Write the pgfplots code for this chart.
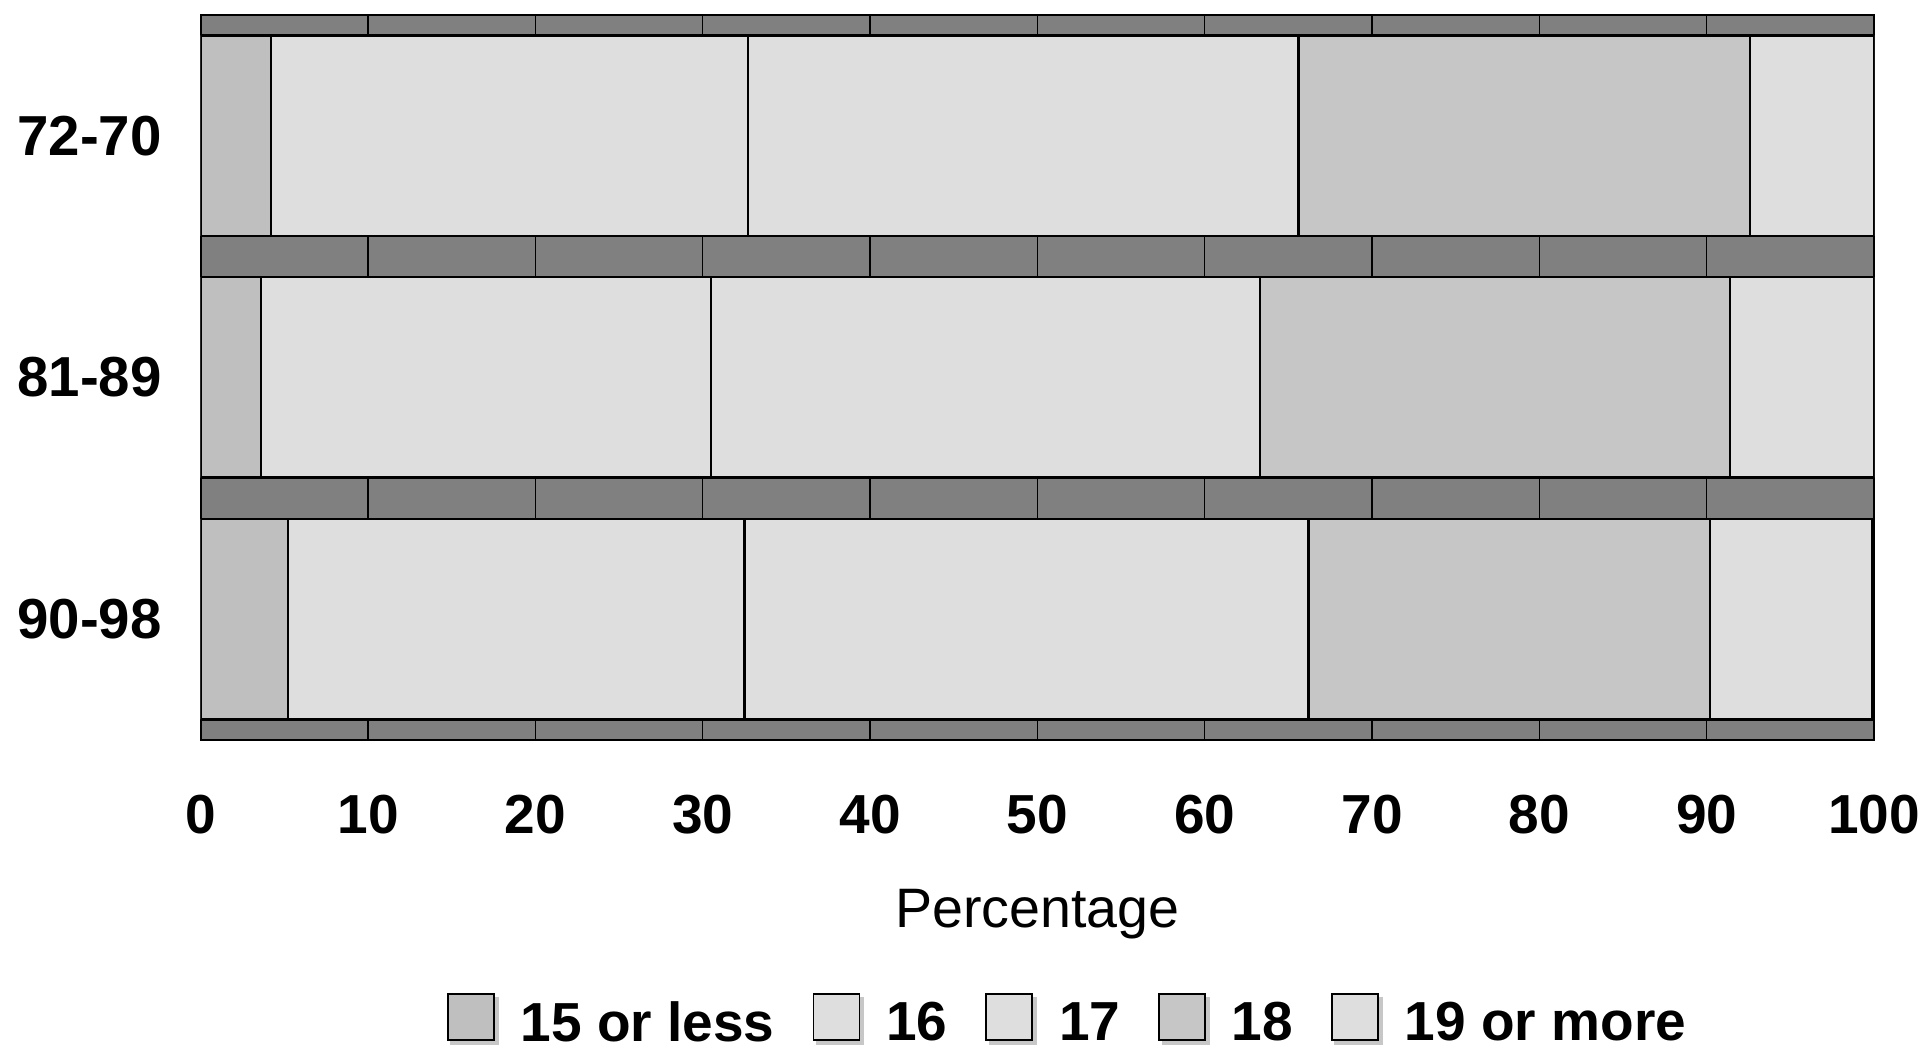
\documentclass[border=0pt]{standalone}
\usepackage{fontspec}
\setmainfont{Liberation Sans}
\usepackage{pgfplots}
\pgfplotsset{compat=1.18}
\definecolor{cA}{HTML}{BFBFBF}
\definecolor{cB}{HTML}{DEDEDE}
\definecolor{cD}{HTML}{C6C6C6}
\definecolor{bg}{HTML}{808080}
\begin{document}
\begin{tikzpicture}
\begin{axis}[
  name=ax,
  scale only axis, width=836.7pt, height=362.6pt,
  xbar stacked, bar width=0.83,
  xmin=0, xmax=100, ymin=-0.5, ymax=2.5,
  xtick={0,10,...,100}, ytick={0,1,2}, yticklabels={90-98,81-89,72-70},
  major tick length=0pt,
  xmajorgrids, grid style={black, line width=0.65pt},
  axis background/.style={fill=bg},
  axis line style={black, line width=0.85pt},
  /pgf/number format/assume math mode=true,
  ticklabel style={font=\fontsize{27.5}{33}\selectfont\bfseries},
  xticklabel style={yshift=-24pt},
  yticklabel style={xshift=-16pt, font=\fontsize{28.2}{34}\selectfont\bfseries},
  xlabel={Percentage},
  xlabel style={font=\fontsize{27.8}{33}\selectfont, at={(axis description cs:0.5,0)}, anchor=north, yshift=-71pt},
  legend columns=-1,
  legend style={draw=none, fill=none, inner sep=0pt, at={(axis description cs:0,0)}, anchor=west, xshift=123pt, yshift=-139.5pt,
    font=\fontsize{27.5}{33}\selectfont\bfseries, nodes={inner sep=0pt},
    /tikz/every odd column/.style={column sep=11pt}, /tikz/every even column/.style={column sep=19pt}},
  legend image code/.code={
    \fill[black!22] (1.8pt,-10.5pt) rectangle (24.8pt,12.5pt);
    \draw[#1, line width=0.9pt] (0pt,-8.5pt) rectangle (23pt,14.5pt);
  },
  every axis plot/.append style={draw=black, line width=1.2pt},
]
\addplot[fill=cA] coordinates {(5.2,0) (3.6,1) (4.2,2)};
\addplot[fill=cB] coordinates {(27.3,0) (26.9,1) (28.5,2)};
\addplot[fill=cB] coordinates {(33.7,0) (32.8,1) (32.9,2)};
\addplot[fill=cD] coordinates {(24.0,0) (28.1,1) (27.0,2)};
\addplot[fill=cB] coordinates {(9.7,0) (8.6,1) (7.4,2)};
\legend{15 or less,16,17,18,19 or more}
\end{axis}
\path ([shift={(-100.35pt,7.4pt)}]ax.north west) rectangle ([shift={(28.5pt,-154.5pt)}]ax.south east);
\end{tikzpicture}
\end{document}
